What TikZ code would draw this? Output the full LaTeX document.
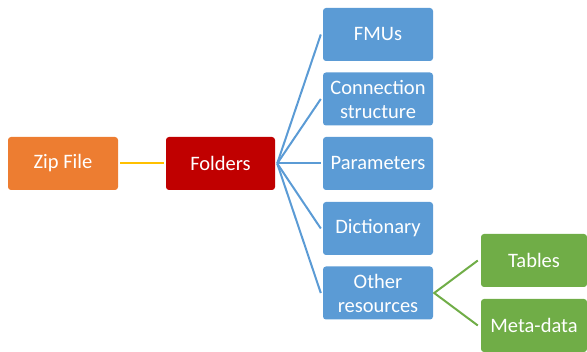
\documentclass[tikz,border=0pt]{standalone}
\usepackage{fontspec}
\setmainfont{Carlito}
\begin{document}
\begin{tikzpicture}[x=1pt,y=-1pt,
  box/.style={rounded corners=3pt, text=white, align=center, inner sep=0pt,
    minimum width=110pt, minimum height=53pt, font=\fontsize{20.5}{24}\selectfont},
  orangebox/.style={box, fill=zorange},
  redbox/.style={box, fill=zred},
  bluebox/.style={box, fill=zblue},
  greenbox/.style={box, fill=zgreen, minimum width=106pt},
  bluelink/.style={draw=zblue, line width=2pt},
  greenlink/.style={draw=zgreen, line width=2pt},
  yellowlink/.style={draw=zyellow, line width=2pt, shorten <=2pt, shorten >=2pt}]
\definecolor{zorange}{HTML}{ED7D31}
\definecolor{zred}{HTML}{C00000}
\definecolor{zblue}{HTML}{5B9BD5}
\definecolor{zgreen}{HTML}{70AD47}
\definecolor{zyellow}{HTML}{FFC000}
\useasboundingbox (0,0) rectangle (587,352);
\node[orangebox] (zip) at (63,163.5) {Zip File};
\node[redbox, minimum width=109pt] (fol) at (220.5,163.5) {Folders};
\node[bluebox] (fmu) at (378,34.5) {FMUs};
\node[bluebox] (con) at (378,99) {Connection\\structure};
\node[bluebox] (par) at (378,163.5) {Parameters};
\node[bluebox] (dic) at (378,228.5) {Dictionary};
\node[bluebox] (oth) at (378,293) {Other\\resources};
\node[greenbox] (tab) at (534,260.5) {Tables};
\node[greenbox] (met) at (534,325.5) {Meta-data};
\draw[yellowlink] (zip.east) -- (fol.west);
\coordinate (fan) at ([xshift=2pt]fol.east);
\foreach \t in {fmu,con,par,dic,oth}
  \draw[bluelink] (fan) -- ([xshift=-2pt]\t.west);
\coordinate (gfan) at ([xshift=1pt]oth.east);
\draw[greenlink] ([xshift=-3pt]tab.west) -- (gfan) -- ([xshift=-3pt]met.west);
\end{tikzpicture}
\end{document}
